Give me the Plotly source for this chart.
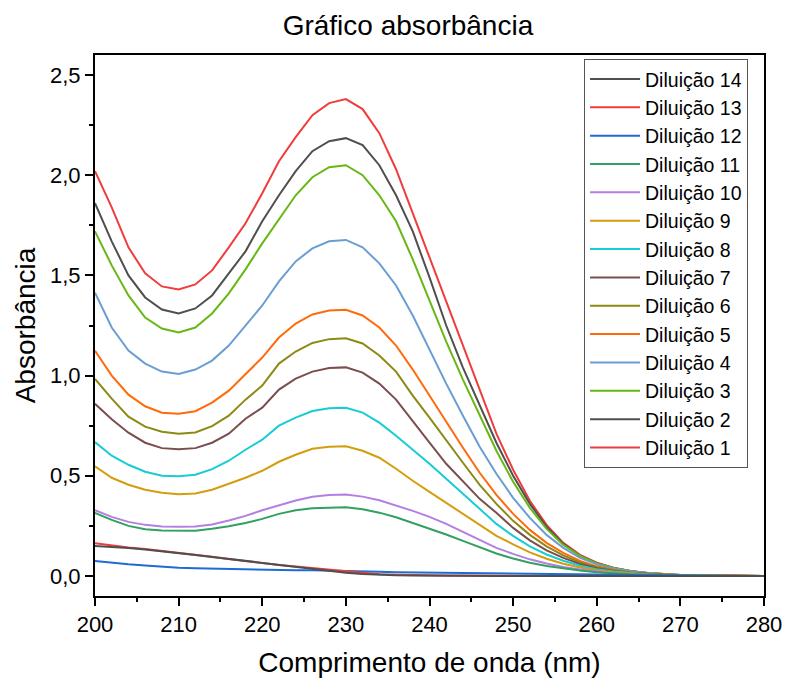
import plotly.graph_objects as go

wavelength = list(range(200, 281, 2))

dil1 = [2.02, 1.84, 1.64, 1.51, 1.445, 1.43, 1.455, 1.525, 1.64, 1.76, 1.91, 2.07, 2.19, 2.30, 2.36, 2.38, 2.33, 2.21, 2.03, 1.81, 1.59, 1.36, 1.14, 0.92, 0.71, 0.53, 0.375, 0.255, 0.165, 0.105, 0.066, 0.041, 0.025, 0.015, 0.009, 0.005, 0.003, 0.002, 0.001, 0.0, 0.0]
dil2 = [1.86, 1.67, 1.50, 1.39, 1.33, 1.31, 1.335, 1.40, 1.51, 1.62, 1.77, 1.90, 2.02, 2.12, 2.17, 2.185, 2.15, 2.05, 1.90, 1.72, 1.49, 1.25, 1.04, 0.85, 0.665, 0.50, 0.36, 0.245, 0.16, 0.10, 0.064, 0.04, 0.025, 0.015, 0.009, 0.005, 0.003, 0.002, 0.001, 0.0, 0.0]
dil3 = [1.72, 1.55, 1.40, 1.29, 1.235, 1.215, 1.24, 1.31, 1.41, 1.53, 1.66, 1.78, 1.90, 1.99, 2.04, 2.05, 2.00, 1.90, 1.77, 1.58, 1.37, 1.17, 0.98, 0.80, 0.625, 0.47, 0.34, 0.235, 0.155, 0.10, 0.063, 0.04, 0.025, 0.015, 0.009, 0.005, 0.003, 0.002, 0.001, 0.0, 0.0]
dil4 = [1.414, 1.24, 1.125, 1.06, 1.02, 1.008, 1.03, 1.075, 1.15, 1.25, 1.35, 1.47, 1.57, 1.635, 1.67, 1.677, 1.64, 1.56, 1.45, 1.30, 1.13, 0.96, 0.80, 0.645, 0.51, 0.39, 0.29, 0.205, 0.14, 0.09, 0.058, 0.037, 0.023, 0.014, 0.008, 0.005, 0.003, 0.002, 0.001, 0.0, 0.0]
dil5 = [1.124, 1.00, 0.905, 0.847, 0.815, 0.81, 0.822, 0.865, 0.925, 1.01, 1.09, 1.19, 1.26, 1.305, 1.325, 1.328, 1.30, 1.24, 1.15, 1.03, 0.90, 0.765, 0.64, 0.515, 0.405, 0.31, 0.23, 0.165, 0.115, 0.075, 0.048, 0.031, 0.019, 0.012, 0.007, 0.004, 0.002, 0.001, 0.001, 0.0, 0.0]
dil6 = [0.983, 0.885, 0.795, 0.745, 0.72, 0.71, 0.716, 0.748, 0.80, 0.88, 0.95, 1.06, 1.12, 1.163, 1.182, 1.186, 1.16, 1.10, 1.02, 0.90, 0.79, 0.675, 0.565, 0.455, 0.36, 0.275, 0.205, 0.148, 0.103, 0.068, 0.044, 0.028, 0.017, 0.011, 0.006, 0.004, 0.002, 0.001, 0.001, 0.0, 0.0]
dil7 = [0.859, 0.782, 0.715, 0.665, 0.638, 0.632, 0.638, 0.665, 0.71, 0.785, 0.84, 0.93, 0.985, 1.02, 1.038, 1.041, 1.015, 0.96, 0.88, 0.77, 0.665, 0.56, 0.47, 0.385, 0.315, 0.24, 0.178, 0.128, 0.09, 0.06, 0.039, 0.025, 0.016, 0.01, 0.006, 0.003, 0.002, 0.001, 0.001, 0.0, 0.0]
dil8 = [0.668, 0.60, 0.555, 0.52, 0.50, 0.4975, 0.505, 0.533, 0.575, 0.63, 0.68, 0.75, 0.79, 0.823, 0.837, 0.839, 0.815, 0.765, 0.70, 0.63, 0.56, 0.485, 0.41, 0.335, 0.26, 0.20, 0.148, 0.107, 0.076, 0.051, 0.033, 0.022, 0.014, 0.009, 0.005, 0.003, 0.002, 0.001, 0.0, 0.0, 0.0]
dil9 = [0.547, 0.49, 0.455, 0.43, 0.415, 0.408, 0.412, 0.43, 0.46, 0.49, 0.525, 0.57, 0.605, 0.635, 0.645, 0.647, 0.625, 0.59, 0.535, 0.475, 0.42, 0.365, 0.31, 0.255, 0.20, 0.158, 0.118, 0.086, 0.061, 0.042, 0.028, 0.018, 0.012, 0.007, 0.004, 0.002, 0.001, 0.001, 0.0, 0.0, 0.0]
dil10 = [0.328, 0.295, 0.27, 0.255, 0.247, 0.245, 0.247, 0.257, 0.277, 0.30, 0.328, 0.353, 0.377, 0.395, 0.404, 0.406, 0.396, 0.378, 0.352, 0.325, 0.295, 0.26, 0.22, 0.18, 0.14, 0.11, 0.083, 0.062, 0.045, 0.032, 0.022, 0.014, 0.009, 0.006, 0.004, 0.002, 0.001, 0.001, 0.0, 0.0, 0.0]
dil11 = [0.315, 0.28, 0.25, 0.233, 0.227, 0.225, 0.226, 0.236, 0.248, 0.264, 0.285, 0.31, 0.328, 0.338, 0.342, 0.343, 0.333, 0.316, 0.293, 0.265, 0.237, 0.207, 0.175, 0.143, 0.112, 0.087, 0.066, 0.05, 0.037, 0.027, 0.019, 0.013, 0.009, 0.006, 0.004, 0.002, 0.001, 0.001, 0.0, 0.0, 0.0]
dil12 = [0.075, 0.066, 0.058, 0.052, 0.046, 0.041, 0.038, 0.036, 0.034, 0.033, 0.032, 0.030, 0.029, 0.028, 0.027, 0.026, 0.023, 0.021, 0.019, 0.018, 0.017, 0.016, 0.015, 0.014, 0.013, 0.012, 0.011, 0.009, 0.008, 0.006, 0.005, 0.004, 0.003, 0.002, 0.001, 0.001, 0.0, 0.0, 0.0, 0.0, 0.0]
dil13 = [0.163, 0.152, 0.142, 0.134, 0.125, 0.116, 0.106, 0.096, 0.085, 0.074, 0.063, 0.055, 0.047, 0.040, 0.033, 0.026, 0.017, 0.009, 0.006, 0.004, 0.003, 0.002, 0.002, 0.001, 0.001, 0.001, 0.0, 0.0, 0.0, 0.0, 0.0, 0.0, 0.0, 0.0, 0.0, 0.0, 0.0, 0.0, 0.0, 0.0, 0.0]
dil14 = [0.149, 0.145, 0.140, 0.132, 0.124, 0.115, 0.105, 0.095, 0.085, 0.075, 0.065, 0.055, 0.045, 0.035, 0.025, 0.016, 0.010, 0.005, 0.003, 0.002, 0.001, 0.001, 0.0, 0.0, 0.0, 0.0, 0.0, 0.0, 0.0, 0.0, 0.0, 0.0, 0.0, 0.0, 0.0, 0.0, 0.0, 0.0, 0.0, 0.0, 0.0]

series = [dil1, dil2, dil3, dil4, dil5, dil6, dil7, dil8, dil9, dil10, dil11, dil12, dil13, dil14]
names = ["Diluição %d" % i for i in range(1, 15)]
colors = ["#F03C3C", "#4F4F4F", "#66B814", "#6A9ED3", "#FF6A0A", "#8C8A14",
          "#7A4E4E", "#18CCD4", "#D49D0C", "#B37FE3", "#31A060", "#1C6CD6",
          "#F03C3C", "#4F4F4F"]

FONT = "Liberation Sans, Arial, sans-serif"

fig = go.Figure()
for ys, nm, col in zip(series, names, colors):
    fig.add_trace(go.Scatter(x=wavelength, y=ys, mode="lines", name=nm,
                             line=dict(color=col, width=2)))

axis_common = dict(
    showline=True, linecolor="black", linewidth=2, mirror=True,
    ticks="outside", ticklen=8, tickwidth=2, tickcolor="black",
    showgrid=False, zeroline=False, automargin=False,
    tickfont=dict(family=FONT, size=22, color="black"),
)

fig.update_layout(
    width=786, height=684,
    paper_bgcolor="white", plot_bgcolor="white",
    separators=",.",
    margin=dict(l=95, r=22, t=55, b=88),
    title=dict(text="Gráfico absorbância", x=0.519, xref="container", xanchor="center",
               y=0.963, yref="container", yanchor="middle",
               font=dict(family=FONT, size=28, color="black")),
    xaxis=dict(range=[200, 280], dtick=10, tick0=200,
               minor=dict(dtick=5, ticklen=4, tickwidth=2, tickcolor="black", ticks="outside"),
               title=dict(text="Comprimento de onda (nm)", standoff=16,
                          font=dict(family=FONT, size=28, color="black")),
               **axis_common),
    yaxis=dict(range=[-0.1, 2.6], dtick=0.5, tick0=0, tickformat=".1f",
               minor=dict(dtick=0.25, ticklen=4, tickwidth=2, tickcolor="black", ticks="outside"),
               title=dict(text="Absorbância", standoff=6,
                          font=dict(family=FONT, size=28, color="black")),
               **axis_common),
    legend=dict(x=0.731, y=0.993, xanchor="left", yanchor="top",
                traceorder="reversed", bgcolor="white",
                bordercolor="#555555", borderwidth=1,
                font=dict(family=FONT, size=19.5, color="black"),
                itemwidth=50, tracegroupgap=0),
    showlegend=True,
)

fig.write_html("out.html")
